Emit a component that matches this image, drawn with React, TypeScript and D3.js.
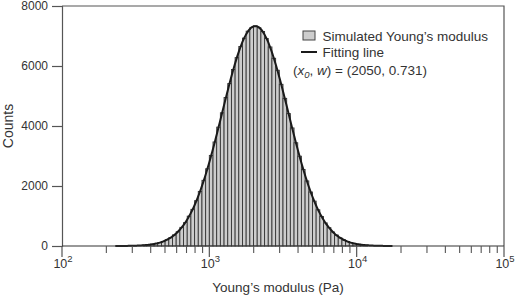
import React, { useEffect, useRef } from "react";
import * as d3 from "d3";

// histogram bins: uniform in log10, 0.025 decade wide, first bin starts at log10 = 2.55
const binStartLog = 2.55;
const binWidthLog = 0.025;
const counts = [
  30, 38, 60, 78, 115, 150, 212, 275, 370, 476,
  622, 781, 995, 1222, 1512, 1820, 2190, 2575, 3020, 3468,
  3962, 4441, 4950, 5415, 5882, 6280, 6652, 6930, 7162, 7280,
  7335, 7276, 7150, 6918, 6635, 6258, 5858, 5390, 4922, 4415,
  3935, 3442, 2994, 2551, 2170, 1800, 1496, 1208, 982, 770,
  612, 468, 365, 270, 207, 148, 112, 77, 58, 37, 28,
];

// fit parameters (lognormal, amplitude from the peak)
const fitX0 = 2050;
const fitW = 0.731;
const fitAmp = 7330;
const fitRange = [230, 17500];

const yTicks = [0, 2000, 4000, 6000, 8000];
const xDecades = [2, 3, 4, 5];

const FONT = "'Liberation Sans', Arial, sans-serif";

export default function App() {
  const ref = useRef<SVGSVGElement | null>(null);

  useEffect(() => {
    const svg = d3.select(ref.current);
    svg.selectAll("*").remove();

    const width = 524;
    const height = 297;
    const margin = { top: 6, right: 20, bottom: 51, left: 62 };
    const innerW = width - margin.left - margin.right;
    const innerH = height - margin.top - margin.bottom;

    const x = d3.scaleLog().domain([1e2, 1e5]).range([0, innerW]);
    const y = d3.scaleLinear().domain([0, 8000]).range([innerH, 0]);

    const g = svg.append("g").attr("transform", `translate(${margin.left},${margin.top})`);

    // bars
    g.selectAll("rect.bar")
      .data(counts)
      .enter()
      .append("rect")
      .attr("class", "bar")
      .attr("x", (d, i) => x(Math.pow(10, binStartLog + i * binWidthLog)))
      .attr("y", (d) => y(d))
      .attr("width", (d, i) =>
        x(Math.pow(10, binStartLog + (i + 1) * binWidthLog)) - x(Math.pow(10, binStartLog + i * binWidthLog))
      )
      .attr("height", (d) => innerH - y(d))
      .attr("fill", "#cdcdcd")
      .attr("stroke", "#353535")
      .attr("stroke-width", 0.9);

    // fitting line
    const fitPts = d3.range(0, 301).map((k) => {
      const lx = Math.log10(fitRange[0]) + (k / 300) * (Math.log10(fitRange[1]) - Math.log10(fitRange[0]));
      const xv = Math.pow(10, lx);
      const r = Math.log(xv / fitX0) / fitW;
      return [xv, fitAmp * Math.exp(-r * r)] as [number, number];
    });
    const line = d3
      .line<[number, number]>()
      .x((d) => x(d[0]))
      .y((d) => y(d[1]))
      .curve(d3.curveBasis);
    g.append("path")
      .datum(fitPts)
      .attr("d", line)
      .attr("fill", "none")
      .attr("stroke", "#1a1a1a")
      .attr("stroke-width", 2);

    // frame (top and right)
    g.append("path")
      .attr("d", `M0,0H${innerW}V${innerH}`)
      .attr("fill", "none")
      .attr("stroke", "#555")
      .attr("stroke-width", 1.2);

    // y axis
    const yAxis = d3.axisLeft(y).tickValues(yTicks).tickSize(10).tickFormat(d3.format("d"));
    const ya = g.append("g").call(yAxis);
    ya.select(".domain").attr("stroke", "#555").attr("stroke-width", 1.2);
    ya.selectAll(".tick line").attr("stroke", "#555").attr("stroke-width", 1.2);
    ya.selectAll(".tick text")
      .attr("font-family", FONT)
      .attr("font-size", 12)
      .attr("fill", "#333")
      .attr("x", -14);

    // x axis: major decades + minor 2..9
    const xa = g.append("g").attr("transform", `translate(0,${innerH})`);
    xa.append("line")
      .attr("x1", 0)
      .attr("x2", innerW)
      .attr("stroke", "#333")
      .attr("stroke-width", 1.2);
    const minor: number[] = [];
    xDecades.slice(0, -1).forEach((e) => {
      for (let m = 2; m <= 9; m++) minor.push(m * Math.pow(10, e));
    });
    xa.selectAll("line.minor")
      .data(minor)
      .enter()
      .append("line")
      .attr("class", "minor")
      .attr("x1", (d) => x(d))
      .attr("x2", (d) => x(d))
      .attr("y1", 0)
      .attr("y2", 7)
      .attr("stroke", "#555")
      .attr("stroke-width", 1.1);
    xa.selectAll("line.major")
      .data(xDecades)
      .enter()
      .append("line")
      .attr("class", "major")
      .attr("x1", (d) => x(Math.pow(10, d)))
      .attr("x2", (d) => x(Math.pow(10, d)))
      .attr("y1", 0)
      .attr("y2", 11)
      .attr("stroke", "#555")
      .attr("stroke-width", 1.2);
    const xl = xa
      .selectAll("text.major")
      .data(xDecades)
      .enter()
      .append("text")
      .attr("class", "major")
      .attr("x", (d) => x(Math.pow(10, d)) + 1)
      .attr("y", 22)
      .attr("text-anchor", "middle")
      .attr("font-family", FONT)
      .attr("font-size", 12.5)
      .attr("fill", "#333");
    xl.append("tspan").text("10");
    xl.append("tspan")
      .attr("dy", -6)
      .attr("font-size", 9.5)
      .text((d) => String(d));

    // axis titles
    svg.append("text")
      .attr("x", 278)
      .attr("y", 292)
      .attr("text-anchor", "middle")
      .attr("font-family", FONT)
      .attr("font-size", 13.5)
      .attr("fill", "#333")
      .text("Young\u2019s modulus (Pa)");

    svg.append("text")
      .attr("transform", `translate(13,${126}) rotate(-90)`)
      .attr("text-anchor", "middle")
      .attr("font-family", FONT)
      .attr("font-size", 14)
      .attr("fill", "#333")
      .text("Counts");

    // legend
    const lg = svg.append("g").attr("font-family", FONT).attr("font-size", 13.5).attr("fill", "#333");
    lg.append("rect")
      .attr("x", 303)
      .attr("y", 31)
      .attr("width", 12)
      .attr("height", 9)
      .attr("fill", "#cdcdcd")
      .attr("stroke", "#444")
      .attr("stroke-width", 1);
    lg.append("text").attr("x", 322.5).attr("y", 40.5).text("Simulated Young\u2019s modulus");
    lg.append("line")
      .attr("x1", 301)
      .attr("x2", 317)
      .attr("y1", 52)
      .attr("y2", 52)
      .attr("stroke", "#1a1a1a")
      .attr("stroke-width", 2);
    lg.append("text").attr("x", 322.5).attr("y", 57).text("Fitting line");

    const par = lg.append("text").attr("x", 293).attr("y", 75);
    par.append("tspan").text("(");
    par.append("tspan").attr("font-style", "italic").text("x");
    par.append("tspan").attr("font-style", "italic").attr("font-size", 9.5).attr("dy", 3).text("0");
    par.append("tspan").attr("dy", -3).text(", ");
    par.append("tspan").attr("font-style", "italic").text("w");
    par.append("tspan").text(`) = (${fitX0}, ${fitW})`);
  }, []);

  return (
    <div style={{ position: "fixed", left: 0, top: 0, background: "#fff" }}>
      <svg ref={ref} width={524} height={297} style={{ display: "block" }} />
    </div>
  );
}
